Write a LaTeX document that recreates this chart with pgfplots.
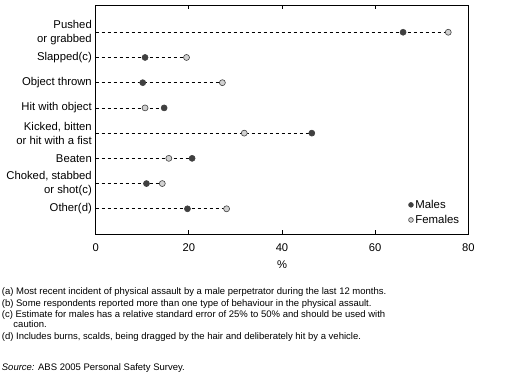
\documentclass[border=0pt]{standalone}
\usepackage{fontspec}
\setmainfont{Liberation Sans}
\usepackage{pgfplots}
\pgfplotsset{compat=1.18}
\definecolor{mdark}{HTML}{404040}
\definecolor{flight}{HTML}{D2D2D2}
\begin{document}
\begin{tikzpicture}
\begin{axis}[
  name=ax,
  scale only axis, width=372.6pt, height=229pt,
  clip=false,
  xmin=0, xmax=80, ymin=-0.08, ymax=9, y dir=reverse,
  xtick={0,20,40,60,80},
  ytick=\empty,
  xticklabel style={font=\fontsize{11.2}{13}\selectfont, inner sep=0pt, yshift=-9pt},
  /pgf/number format/assume math mode=true,
  xtick style={black, line width=0.8pt},
  major tick length=4pt,
  tick align=inside,
  axis line style={black, line width=0.8pt},
  xlabel={\%},
  xlabel style={font=\fontsize{11.2}{13}\selectfont, at={(axis description cs:0.5,0)}, anchor=center, inner sep=0pt, yshift=-31pt},
  legend style={draw=none, fill=none, at={(axis description cs:1,0)}, anchor=south east, xshift=-9pt, yshift=9pt, inner sep=0pt, row sep=5.3pt, font=\fontsize{11.4}{13}\selectfont, nodes={inner sep=0pt}},
  legend image code/.code={\draw[#1, mark size=2.4pt] plot coordinates {(0pt,0pt)};},
  legend cell align=left,
]
\addplot[black, line width=0.6pt, dash pattern=on 3.3pt off 2.7pt, unbounded coords=jump, forget plot] coordinates {(0,1) (75.7,1) (nan,1) (0,2) (19.5,2) (nan,2) (0,3) (27.2,3) (nan,3) (0,4) (14.7,4) (nan,4) (0,5) (46.4,5) (nan,5) (0,6) (20.7,6) (nan,6) (0,7) (14.3,7) (nan,7) (0,8) (28.1,8)};
\addplot[only marks, mark=*, mark size=3pt, mark options={fill=mdark, draw=mdark, line width=0.6pt}] coordinates {(66.0,1) (10.6,2) (10.1,3) (14.7,4) (46.4,5) (20.7,6) (10.9,7) (19.7,8)};
\addlegendentry{\hspace{2pt}Males}
\addplot[only marks, mark=*, mark size=3pt, mark options={fill=flight, draw=mdark, line width=0.6pt}] coordinates {(75.7,1) (19.5,2) (27.2,3) (10.6,4) (31.9,5) (15.7,6) (14.3,7) (28.1,8)};
\addlegendentry{\hspace{2pt}Females}
\path (axis cs:0,9) ++(-95.7pt,-155pt) rectangle ++(506pt,389pt);
\begin{scope}[every node/.style={anchor=east, align=right, inner sep=0pt, xshift=-3.7pt, font=\fontsize{11.3}{14.3}\selectfont}]
\node at (axis cs:0,1) {Pushed\\or grabbed};
\node at (axis cs:0,2) {Slapped(c)};
\node at (axis cs:0,3) {Object thrown};
\node at (axis cs:0,4) {Hit with object};
\node at (axis cs:0,5) {Kicked, bitten\\or hit with a fist};
\node at (axis cs:0,6) {Beaten};
\node at (axis cs:0,7) {Choked, stabbed\\or shot(c)};
\node at (axis cs:0,8) {Other(d)};
\end{scope}
\begin{scope}[every node/.style={anchor=base west, inner sep=0pt, font=\fontsize{9.5}{11}\selectfont}]
\node at ([shift={(-94pt,-60.5pt)}]axis cs:0,9) {(a) Most recent incident of physical assault by a male perpetrator during the last 12 months.};
\node at ([shift={(-94pt,-72pt)}]axis cs:0,9) {(b) Some respondents reported more than one type of behaviour in the physical assault.};
\node at ([shift={(-94pt,-83pt)}]axis cs:0,9) {(c) Estimate for males has a relative standard error of 25\% to 50\% and should be used with};
\node at ([shift={(-82.4pt,-93.5pt)}]axis cs:0,9) {caution.};
\node at ([shift={(-94pt,-105pt)}]axis cs:0,9) {(d) Includes burns, scalds, being dragged by the hair and deliberately hit by a vehicle.};
\node at ([shift={(-94pt,-136pt)}]axis cs:0,9) {\textit{Source:} ABS 2005 Personal Safety Survey.};
\end{scope}
\end{axis}
\end{tikzpicture}
\end{document}
